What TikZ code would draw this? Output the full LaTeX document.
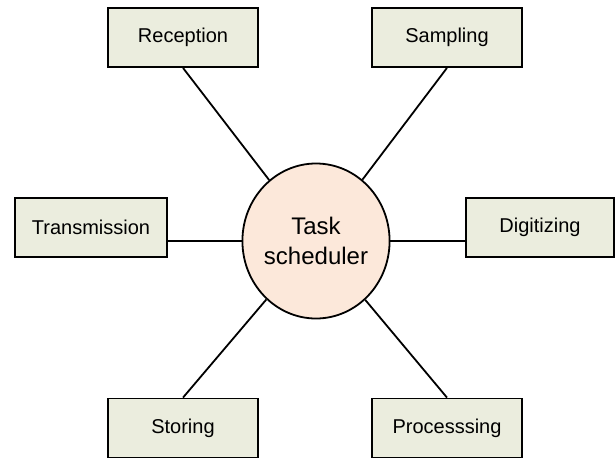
\documentclass[tikz,border=0pt]{standalone}
\usepackage{fontspec}
\setmainfont{Liberation Sans}
\usetikzlibrary{shapes.geometric}
\definecolor{boxfill}{HTML}{EBEDDE}
\definecolor{schedfill}{HTML}{FCE8DA}
\tikzset{
	task/.style={draw, line width=1.8pt, fill=boxfill, minimum width=150pt, minimum height=59pt, inner sep=0pt, font=\fontsize{20}{24}\selectfont},
	sched/.style={draw, ellipse, line width=1.8pt, fill=schedfill, minimum width=142pt, minimum height=155pt, inner sep=0pt, align=center, font=\fontsize{24}{30}\selectfont},
	link/.style={line width=1.8pt}
}

\begin{document}
\begin{tikzpicture}[x=1pt,y=-1pt]
			\useasboundingbox (0,0) rectangle (615,458);
			\node [sched] (core) at (316,241) {Task\\scheduler};
			\node [task] (recep) at (183,37.5) {Reception};
			\node [task] (sampl) at (447,37.5) {Sampling};
			\node [task, minimum width=152pt] (trans) at (91,227.5) {Transmission};
			\node [task, minimum width=148pt] (digit) at (540,227.5) {Digitizing};
			\node [task] (stor) at (183,428) {Storing};
			\node [task] (proc) at (447,428) {Processsing};
			\draw [link] (core) -- (recep.south);
			\draw [link] (core) -- (sampl.south);
			\draw [link] (core) -- (stor.north);
			\draw [link] (core) -- (proc.north);
			\draw [link] (core.west) -- (trans.east |- core.west);
			\draw [link] (core.east) -- (digit.west |- core.east);
		\end{tikzpicture}
\end{document}
